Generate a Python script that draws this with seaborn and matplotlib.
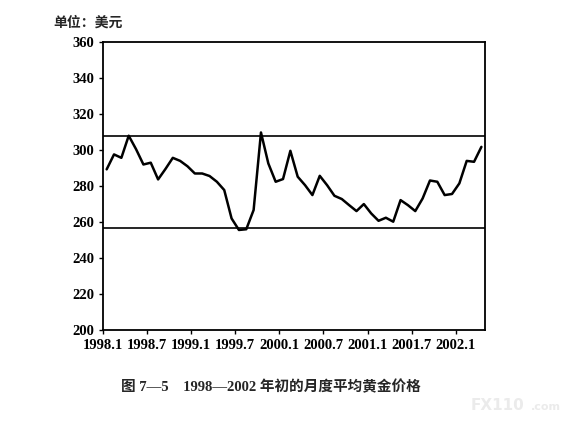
import numpy as np
import pandas as pd
import matplotlib
matplotlib.use("Agg")
import matplotlib.pyplot as plt
import seaborn as sns

# 月度平均金价 1998.1 - 2002.4
prices_1998 = [289.3, 297.6, 295.7, 308.0, 300.5, 292.0, 293.0, 283.7, 289.5, 295.7, 294.0, 291.0]
prices_1999 = [287.0, 287.0, 285.6, 282.4, 277.8, 262.0, 255.6, 256.0, 266.7, 309.8, 292.6, 282.4]
prices_2000 = [283.9, 299.6, 285.2, 280.5, 275.0, 285.7, 280.5, 274.6, 272.8, 269.4, 266.1, 270.0]
prices_2001 = [264.8, 260.7, 262.4, 260.2, 272.2, 269.4, 266.1, 273.1, 283.1, 282.4, 275.0, 275.6]
prices_2002 = [281.5, 294.0, 293.5, 301.8]
upper_line = 307.8
lower_line = 256.8
tick_labels = ['1998.1', '1998.7', '1999.1', '1999.7', '2000.1', '2000.7', '2001.1', '2001.7', '2002.1']
y_ticks = [200, 220, 240, 260, 280, 300, 320, 340, 360]

prices = prices_1998 + prices_1999 + prices_2000 + prices_2001 + prices_2002
df = pd.DataFrame({'month': np.arange(len(prices)) + 0.5, 'price': prices})

sns.set_theme(style="ticks")
plt.rcParams['font.family'] = ['Liberation Serif', 'Noto Sans CJK SC']
plt.rcParams['font.weight'] = 'bold'

fig = plt.figure(figsize=(5.7, 4.26), dpi=100)
ax = fig.add_axes([0.1807, 0.2254, 0.851 - 0.1807, 0.901 - 0.2254])

sns.lineplot(data=df, x='month', y='price', color='black', linewidth=1.8, ax=ax)
ax.axhline(upper_line, color='black', linewidth=1.2)
ax.axhline(lower_line, color='black', linewidth=1.2)

ax.set_xlim(0, len(prices))
ax.set_ylim(200, 360)
ax.set_xticks(np.arange(len(tick_labels)) * 6)
ax.set_xticklabels(tick_labels)
ax.set_yticks(y_ticks)
ax.tick_params(axis='both', labelsize=10.5, length=3, width=1, direction='out', colors='black')
for lbl in ax.get_xticklabels() + ax.get_yticklabels():
    lbl.set_fontweight('bold')
ax.set_xlabel('')
ax.set_ylabel('')
for s in ax.spines.values():
    s.set_visible(True)
    s.set_linewidth(1.3)
    s.set_color('black')

fig.text(53 / 570, 1 - 23 / 426, '单位：美元', fontsize=10, fontweight='bold', ha='left', va='center',
         family=['Noto Sans CJK SC', 'DejaVu Sans'])
fig.text(271 / 570, 1 - 387 / 426, '图 7—5    1998—2002 年初的月度平均黄金价格', fontsize=10.5,
         fontweight='bold', ha='center', va='center', family=['Liberation Serif', 'Noto Sans CJK SC'])
# 水印
fig.text(471 / 570, 1 - 405 / 426, 'FX110', fontsize=11, fontweight='bold', color='#ebebeb',
         ha='left', va='center', family=['DejaVu Sans'])
fig.text(531 / 570, 1 - 407 / 426, '.com', fontsize=8, color='#ebebeb',
         ha='left', va='center', family=['DejaVu Sans'])

fig.savefig('out.png', dpi=100)
